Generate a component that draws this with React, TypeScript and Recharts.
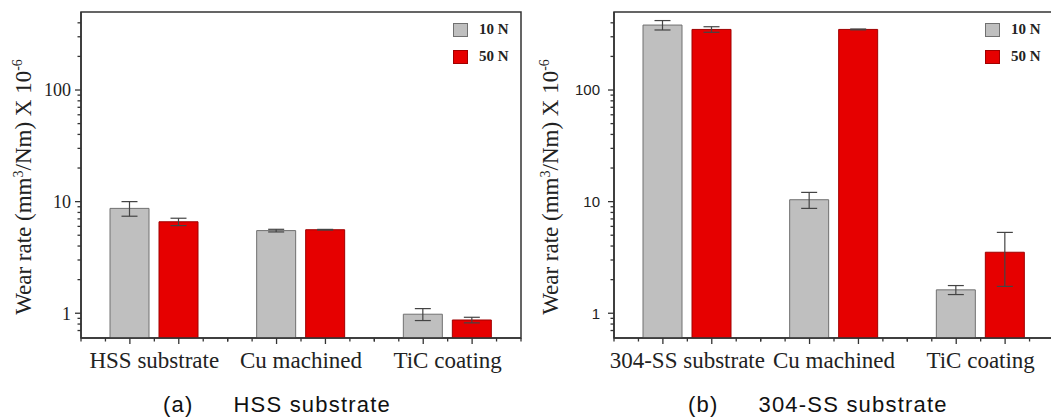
import React from 'react'
import { BarChart, Bar, XAxis, YAxis, ErrorBar, Legend, ReferenceArea, usePlotArea } from 'recharts'

// panel (a) HSS substrate
const categoriesA = ['HSS substrate', 'Cu machined', 'TiC coating']
const rateA10 = [8.7, 5.5, 0.98]
const errA10 = [1.3, 0.15, 0.12]
const rateA50 = [6.6, 5.6, 0.87]
const errA50 = [0.5, 0.04, 0.05]

// panel (b) 304-SS substrate
const categoriesB = ['304-SS substrate', 'Cu machined', 'TiC coating']
const rateB10 = [382, 10.4, 1.62]
const errB10 = [37, 1.7, 0.15]
const rateB50 = [349, 349, 3.52]
const errB50 = [20, 3, 1.78]

const yDomain = [0.6, 500]
const yTicks = [0.7, 0.8, 0.9, 1, 2, 3, 4, 5, 6, 7, 8, 9, 10, 20, 30, 40, 50, 60, 70, 80, 90, 100, 200, 300, 400]
const yMajor = [1, 10, 100]
// bottom tick marks: each category split in 6, long marks at 2 and 4
const bandMarks = [0, 1, 2, 3, 4, 5, 6]
const bandMajor = [2, 4]
const bandSteps = 6

const SERIF = '"Liberation Serif", "Times New Roman", serif'
const SANS = '"Liberation Sans", Arial, sans-serif'
const AXIS = '#333'
const GRAY = '#bfbfbf'
const GRAY_EDGE = '#707070'
const RED = '#e60000'
const RED_EDGE = '#a00000'

// small Origin-style marks under the x axis, spread over the plot width
const BottomMarks = ({ bands }: { bands: number }) => {
  const pa = usePlotArea()
  if (!pa) return null
  const step = pa.width / (bands * bandSteps)
  const y = pa.y + pa.height
  const lines: React.ReactNode[] = []
  for (let c = 0; c < bands; c++) {
    bandMarks.forEach((k) => {
      const mx = pa.x + (c * bandSteps + k) * step
      const major = bandMajor.includes(k)
      lines.push(<line key={`${c}-${k}`} x1={mx} x2={mx} y1={y} y2={y + (major ? 6 : 3.5)} stroke={AXIS} strokeWidth={1.3} />)
    })
  }
  return <g>{lines}</g>
}

interface PanelProps {
  categories: string[]
  v10: number[]
  e10: number[]
  v50: number[]
  e50: number[]
  tickFont: string
  tickFontSize: number
  tickGap: number
  labelDx: number
  captionTag: string
  captionText: string
  captionDx: number
  legendLeft: number
}

const Panel = (p: PanelProps) => {
  const rows = p.categories.map((name, i) => ({
    name,
    n10: p.v10[i],
    e10: p.e10[i],
    n50: p.v50[i],
    e50: p.e50[i],
  }))

  const yTick = (t: any) => {
    const major = yMajor.includes(t.payload.value)
    return (
      <g>
        <line x1={t.x - (major ? 6 : 3.5)} x2={t.x} y1={t.y} y2={t.y} stroke={AXIS} strokeWidth={1.3} />
        {major && (
          <text x={t.x - p.tickGap} y={t.y} dy="0.36em" textAnchor="end" fontFamily={p.tickFont} fontSize={p.tickFontSize} fill="#222">
            {t.payload.value}
          </text>
        )}
      </g>
    )
  }

  const xTick = (t: any) => (
    <text x={t.x} y={t.y + 14} dy="0.71em" textAnchor="middle" fontFamily={SERIF} fontSize={23} fill="#222">
      {t.payload.value}
    </text>
  )

  const yLabel = (l: any) => {
    const vb = l.viewBox
    const cx = vb.x + p.labelDx
    const cy = vb.y + vb.height / 2 + 12
    return (
      <text x={cx} y={cy} transform={`rotate(-90, ${cx}, ${cy})`} textAnchor="middle" fontFamily={SERIF} fontSize={23} fill="#222">
        Wear rate (mm<tspan dy={-8} fontSize={14}>3</tspan>
        <tspan dy={8}>/Nm) X 10</tspan>
        <tspan dy={-9} fontSize={14}>-6</tspan>
      </text>
    )
  }

  const caption = (l: any) => {
    const vb = l.viewBox
    return (
      <text x={vb.x + p.captionDx} y={vb.y + 74} fontFamily={SANS} fontSize={22} letterSpacing={1.2} fill="#111">
        {p.captionTag}
        <tspan dx={40}>{p.captionText}</tspan>
      </text>
    )
  }

  const legend = (lp: any) => (
    <div style={{ fontFamily: SERIF, fontWeight: 'bold', fontSize: 15, color: '#222' }}>
      {(lp.payload || []).map((item: any) => (
        <div key={item.value} style={{ display: 'flex', alignItems: 'center', height: 27 }}>
          <span
            style={{
              display: 'inline-block',
              width: 15,
              height: 14,
              boxSizing: 'border-box',
              background: item.color,
              border: `1px solid ${item.value === '10 N' ? GRAY_EDGE : RED_EDGE}`,
              marginRight: 11,
            }}
          />
          {item.value}
        </div>
      ))}
    </div>
  )

  return (
    <BarChart width={525} height={420} data={rows} margin={{ top: 12, right: 4, bottom: 0, left: 0 }} barSize={39} barGap={10}>
      <XAxis
        xAxisId="cat"
        dataKey="name"
        height={82}
        axisLine={{ stroke: AXIS, strokeWidth: 1.5 }}
        tickLine={false}
        tickSize={0}
        tickMargin={0}
        interval={0}
        tick={xTick}
        label={caption}
      />
      <YAxis
        yAxisId="rate"
        type="number"
        scale="log"
        domain={yDomain}
        allowDataOverflow
        ticks={yTicks}
        interval={0}
        width={81}
        tickSize={0}
        tickMargin={0}
        tickLine={false}
        tick={yTick}
        axisLine={{ stroke: AXIS, strokeWidth: 1.5 }}
        label={yLabel}
      />
      <ReferenceArea xAxisId="cat" yAxisId="rate" y1={yDomain[0]} y2={yDomain[1]} fill="none" stroke={AXIS} strokeWidth={1.5} ifOverflow="visible" />
      <Legend
        layout="vertical"
        align="center"
        verticalAlign="middle"
        wrapperStyle={{ top: 16, left: p.legendLeft, width: 'auto' }}
        content={legend}
      />
      <Bar xAxisId="cat" yAxisId="rate" dataKey="n10" name="10 N" fill={GRAY} stroke={GRAY_EDGE} strokeWidth={1} isAnimationActive={false}>
        <ErrorBar dataKey="e10" width={8} stroke="#444" strokeWidth={1.2} direction="y" />
      </Bar>
      <Bar xAxisId="cat" yAxisId="rate" dataKey="n50" name="50 N" fill={RED} stroke={RED_EDGE} strokeWidth={1} isAnimationActive={false}>
        <ErrorBar dataKey="e50" width={8} stroke="#444" strokeWidth={1.2} direction="y" />
      </Bar>
      <BottomMarks bands={p.categories.length} />
    </BarChart>
  )
}

export default function App() {
  return (
    <div style={{ position: 'absolute', left: 0, top: 0, width: 1051, height: 420, overflow: 'hidden', background: '#fff' }}>
      <div style={{ position: 'absolute', left: 0, top: 0 }}>
        <Panel
          categories={categoriesA}
          v10={rateA10}
          e10={errA10}
          v50={rateA50}
          e50={errA50}
          tickFont={SERIF}
          tickFontSize={18}
          tickGap={10}
          labelDx={31}
          captionTag="(a)"
          captionText="HSS substrate"
          captionDx={82}
          legendLeft={453}
        />
      </div>
      <div style={{ position: 'absolute', left: 533, top: 0 }}>
        <Panel
          categories={categoriesB}
          v10={rateB10}
          e10={errB10}
          v50={rateB50}
          e50={errB50}
          tickFont={SANS}
          tickFontSize={15}
          tickGap={14}
          labelDx={25}
          captionTag="(b)"
          captionText="304-SS substrate"
          captionDx={74}
          legendLeft={452}
        />
      </div>
    </div>
  )
}
